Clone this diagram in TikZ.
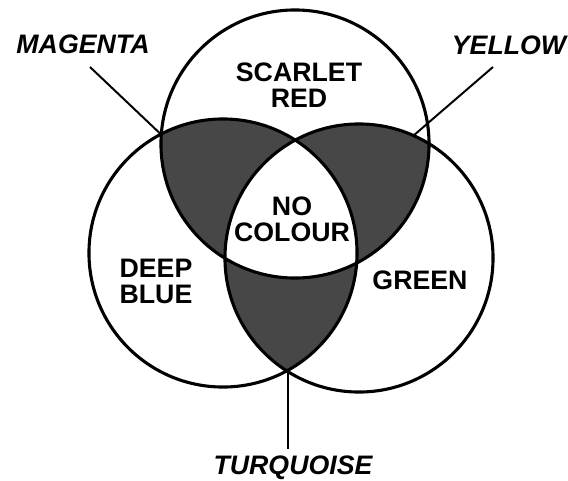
\documentclass[tikz,border=0pt]{standalone}
\usepackage{fontspec}
\setmainfont{Liberation Sans}
\usetikzlibrary{calc}
\tikzset{
  ring/.style={circle, draw, line width=2.2pt, minimum size=6.7cm, inner sep=0pt, outer sep=0pt},
  lab/.style={font=\fontsize{19}{18.5}\selectfont\bfseries, align=center, inner sep=0pt},
  tag/.style={font=\fontsize{19}{18.5}\selectfont\bfseries\itshape, inner sep=0pt},
  lead/.style={line width=1.4pt},
  dark/.style={fill=black!72}
}
\newcommand{\rad}{3.35cm}

\begin{document}
\begin{tikzpicture}[x=0.025cm, y=-0.025cm]
		\useasboundingbox (0,0) rectangle (568,481);
		\coordinate (oT) at (295,144);
		\coordinate (oL) at (223,253);
		\coordinate (oR) at (359,258);
		% shaded pairwise overlaps
		\begin{scope}
			\clip (oT) circle[radius=\rad];
			\fill[dark] (oL) circle[radius=\rad];
			\fill[dark] (oR) circle[radius=\rad];
		\end{scope}
		\begin{scope}
			\clip (oL) circle[radius=\rad];
			\fill[dark] (oR) circle[radius=\rad];
		\end{scope}
		\begin{scope}
			\clip (oT) circle[radius=\rad];
			\clip (oL) circle[radius=\rad];
			\fill[white] (oR) circle[radius=\rad];
		\end{scope}
		\node[ring] (cT) at (oT) {};
		\node[ring] (cL) at (oL) {};
		\node[ring] (cR) at (oR) {};
		\node[lab] (red) at (299,85) {SCARLET\\RED};
		\node[lab] (none) at (292,219) {NO\\COLOUR};
		\node[lab] (blue) at (156,281) {DEEP\\BLUE};
		\node[lab] (green) at (420,280) {GREEN};
		\node[tag] (mag) at (83,44) {MAGENTA};
		\node[tag] (yel) at (509,45) {YELLOW};
		\node[tag] (tur) at (293,468) {TURQUOISE};
		\coordinate (magEnd) at (90,67);
		\coordinate (yelEnd) at (493,67);
		\path (cL.-61.6) ++(0,79) coordinate (turEnd);
		\draw[lead] (magEnd) -- (cT.176);
		\draw[lead] (yelEnd) -- (cR.66.4);
		\draw[lead] (cL.-61.6) -- (turEnd);
	\end{tikzpicture}
\end{document}
